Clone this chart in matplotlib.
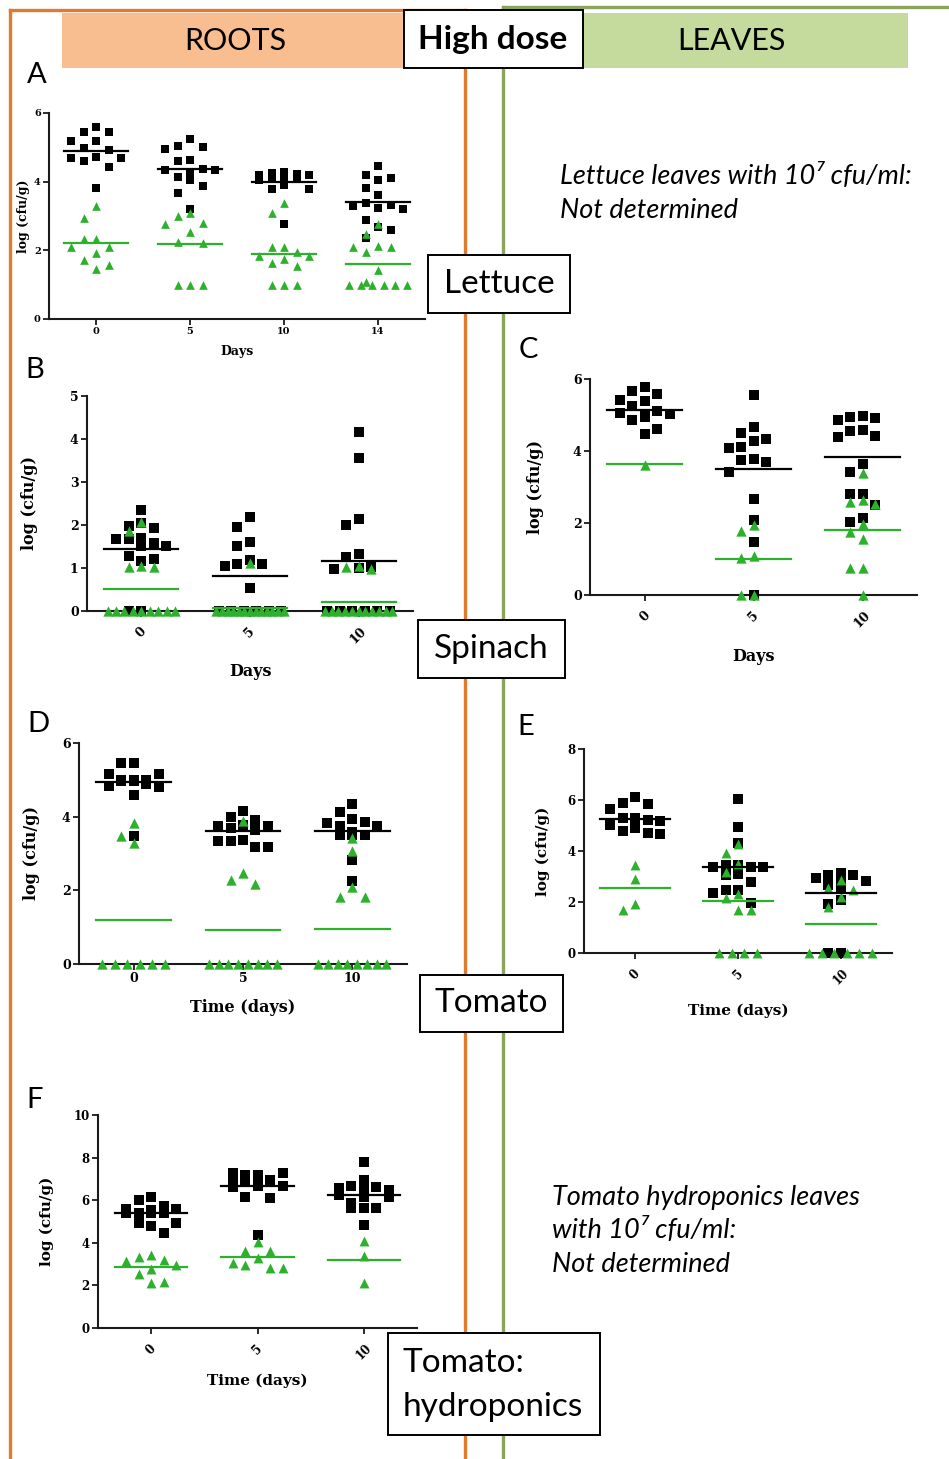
import numpy as np
import matplotlib
matplotlib.use('Agg')
import matplotlib.pyplot as plt
from matplotlib.patches import Rectangle

'''
Dot plots, high dose: roots and leaves of lettuce, spinach, tomato and hydroponic tomato
'''

plt.rcParams['font.family'] = ['Lato', 'DejaVu Sans']

W, H = 949, 1459
GREEN = '#2DB12D'
ORANGE = '#E07A2C'
OLIVE = '#8CA45A'
SERIF = 'DejaVu Serif'

# A - lettuce roots
lettuce_days = ['0', '5', '10', '14']
lettuce_black = [
    [5.44, 5.58, 5.44, 5.17, 5.17, 4.98, 4.93, 4.68, 4.59, 4.68, 4.73, 4.44, 3.83],
    [5.25, 5.02, 4.95, 5.05, 4.59, 4.62, 4.34, 4.34, 4.36, 4.29, 4.05, 4.13, 3.88, 3.68, 3.20],
    [4.20, 4.25, 4.29, 4.23, 4.20, 4.10, 4.10, 4.05, 3.80, 3.78, 3.90, 4.15, 2.78],
    [4.46, 4.10, 4.20, 4.05, 3.81, 3.61, 3.32, 3.22, 3.20, 3.29, 3.39, 2.88, 2.69, 2.59, 2.37],
]
lettuce_green = [
    [3.29, 2.95, 2.33, 2.33, 2.10, 2.10, 1.91, 1.71, 1.57, 1.47],
    [3.00, 3.08, 2.77, 2.80, 2.54, 2.25, 2.20, 1.00, 1.00, 1.00],
    [3.08, 3.37, 2.10, 2.10, 1.96, 1.84, 1.84, 1.62, 1.55, 1.76, 1.00, 1.00, 1.00],
    [2.78, 2.47, 2.10, 1.94, 2.10, 2.12, 1.42, 1.08, 1.00, 1.00, 1.00, 1.00, 1.00, 1.00],
]
lettuce_black_mean = [4.88, 4.37, 4.00, 3.40]
lettuce_green_mean = [2.20, 2.18, 1.89, 1.60]

# B - spinach roots
spinach_days = ['0', '5', '10']
spinach_root_black = [
    [2.05, 1.92, 2.36, 1.98, 1.67, 1.59, 1.69, 1.50, 1.51, 1.67, 1.17, 1.29, 1.22, 0, 0],
    [2.19, 1.95, 1.60, 1.52, 1.19, 1.09, 1.05, 1.09, 0.53, 0, 0, 0, 0, 0, 0],
    [4.17, 3.55, 2.14, 2.00, 1.33, 1.26, 1.03, 0.97, 0.99, 0, 0, 0, 0, 0, 0],
]
spinach_root_green = [
    [1.87, 2.08, 1.03, 1.03, 1.05, 0, 0, 0, 0, 0, 0, 0, 0, 0],
    [1.11, 0, 0, 0, 0, 0, 0, 0, 0, 0, 0, 0, 0, 0],
    [0.97, 1.05, 1.03, 0, 0, 0, 0, 0, 0, 0, 0, 0, 0, 0],
]
spinach_root_black_mean = [1.44, 0.81, 1.17]
spinach_root_green_mean = [0.51, 0.08, 0.22]

# C - spinach leaves
spinach_leaf_black = [
    [5.66, 5.77, 5.43, 5.59, 5.38, 5.26, 5.10, 5.01, 4.94, 5.06, 5.04, 4.85, 4.85, 4.62, 4.48],
    [5.55, 4.67, 4.50, 4.29, 4.34, 4.08, 4.11, 3.78, 3.69, 3.74, 3.43, 2.66, 2.07, 1.48, 0],
    [4.96, 4.92, 4.85, 4.94, 4.55, 4.39, 4.41, 4.57, 3.64, 3.43, 2.81, 2.81, 2.50, 2.13, 2.02],
]
spinach_leaf_green = [
    [3.62],
    [1.95, 1.78, 1.09, 1.02, 0, 0],
    [3.39, 2.58, 2.53, 2.64, 1.98, 1.75, 1.56, 0.76, 0.76, 0],
]
spinach_leaf_black_mean = [5.15, 3.51, 3.82]
spinach_leaf_green_mean = [3.65, 1.00, 1.81]

# D - tomato roots
tomato_days = ['0', '5', '10']
tomato_root_black = [
    [5.46, 5.46, 5.17, 5.17, 5.00, 4.96, 5.00, 5.00, 4.90, 4.84, 4.80, 4.60, 4.96, 3.48],
    [4.16, 3.90, 3.99, 3.74, 3.76, 3.78, 3.74, 3.37, 3.33, 3.69, 3.64, 3.33, 3.19, 3.19],
    [4.35, 4.13, 3.85, 3.76, 3.76, 3.83, 3.94, 3.49, 3.49, 3.58, 3.49, 2.83, 2.24],
]
tomato_root_green = [
    [3.83, 3.48, 3.28, 0, 0, 0, 0, 0, 0],
    [3.87, 2.28, 2.17, 2.48, 0, 0, 0, 0, 0, 0, 0, 0],
    [3.06, 3.42, 1.83, 1.83, 2.08, 0, 0, 0, 0, 0, 0, 0, 0],
]
tomato_root_black_mean = [4.93, 3.62, 3.60]
tomato_root_green_mean = [1.20, 0.92, 0.95]

# E - tomato leaves
tomato_leaf_black = [
    [6.10, 5.84, 5.64, 5.88, 5.29, 5.22, 5.19, 5.29, 4.89, 4.70, 4.66, 4.79, 5.02],
    [6.03, 4.96, 4.30, 3.45, 3.38, 3.36, 3.38, 3.45, 3.06, 3.10, 2.79, 2.47, 2.37, 2.47, 1.98],
    [3.15, 3.06, 2.96, 3.06, 2.75, 2.60, 2.83, 2.66, 1.91, 2.07, 0, 0],
]
tomato_leaf_green = [
    [3.45, 2.89, 1.70, 1.94],
    [4.28, 3.93, 3.19, 3.50, 2.33, 2.16, 1.70, 1.70, 0, 0, 0, 0],
    [2.20, 1.81, 2.47, 2.86, 2.53, 0, 0, 0, 0, 0, 0],
]
tomato_leaf_black_mean = [5.25, 3.38, 2.37]
tomato_leaf_green_mean = [2.53, 2.03, 1.13]

# F - hydroponic tomato roots
hydro_black = [
    [6.16, 6.00, 5.53, 5.72, 5.61, 5.61, 5.41, 5.41, 5.42, 5.42, 4.94, 4.80, 4.94, 4.44],
    [7.26, 7.18, 7.26, 7.18, 6.94, 6.94, 6.94, 6.87, 6.87, 6.66, 6.66, 6.60, 6.13, 6.08, 4.36],
    [7.81, 6.97, 6.68, 6.55, 6.47, 6.47, 6.60, 6.16, 6.16, 6.24, 5.64, 5.64, 5.64, 5.89, 4.83],
]
hydro_green = [
    [3.21, 3.42, 3.13, 3.34, 2.95, 2.76, 2.52, 2.12, 2.16],
    [4.04, 3.62, 3.62, 3.29, 2.98, 2.84, 2.84, 3.06],
    [4.08, 3.37, 2.13],
]
hydro_black_mean = [5.38, 6.66, 6.24]
hydro_green_mean = [2.87, 3.31, 3.21]


def swarm(vals, binh, step, maxw):
    # sideways offsets like a column scatter: equal values in a row, others packed greedily
    vals = np.asarray(vals, dtype=float)
    off = np.zeros(len(vals))
    placed = []
    done = np.zeros(len(vals), dtype=bool)
    for u in np.unique(vals):
        idx = np.where(vals == u)[0]
        if len(idx) >= 3:
            k = len(idx)
            sp = min(step, 2 * maxw / (k - 1))
            off[idx] = (np.arange(k) - (k - 1) / 2) * sp
            done[idx] = True
            placed += [(o, u) for o in off[idx]]
    nslot = int(maxw / (step / 2))
    cands = sorted(range(-nslot, nslot + 1), key=lambda c: (abs(c), c))
    for i in np.argsort(-vals, kind='stable'):
        if done[i]:
            continue
        best, best_hits = 0.0, None
        for c in cands:
            o = c * step / 2
            hits = sum(1 for po, pv in placed
                       if abs(o - po) < step * 0.95 and abs(vals[i] - pv) < binh)
            if best_hits is None or hits < best_hits:
                best, best_hits = o, hits
            if hits == 0:
                break
        off[i] = best
        placed.append((best, vals[i]))
    return off


def draw_panel(fig, box, days, black, green, bmean, gmean, ymax, ystep, xlab,
               rot, tick_fs, lab_fs, xlab_off, ylab_off, msize):
    l, t, r, b = box
    ax = fig.add_axes([l / W, 1 - b / H, (r - l) / W, (b - t) / H])
    ax.set_facecolor('none')
    n = len(days)
    ax.set_xlim(-0.5, n - 0.5)
    ax.set_ylim(0, ymax)
    px_x = (r - l) / n
    px_y = (b - t) / ymax
    for i in range(n):
        bv = np.array(black[i], dtype=float)
        gv = np.array(green[i], dtype=float)
        ax.scatter(i + swarm(bv, 13 / px_y, 12.5 / px_x, 0.31), bv, marker='s',
                   s=msize, c='black', linewidths=0, clip_on=False, zorder=3)
        ax.scatter(i + swarm(gv, 13 / px_y, 12.5 / px_x, 0.31), gv, marker='^',
                   s=msize * 1.15, c=GREEN, linewidths=0, clip_on=False, zorder=3)
        ax.plot([i - 0.34, i + 0.34], [bmean[i], bmean[i]], color='black', lw=1.6, zorder=4)
        ax.plot([i - 0.34, i + 0.34], [gmean[i], gmean[i]], color=GREEN, lw=1.6, zorder=4)
    ax.spines['top'].set_visible(False)
    ax.spines['right'].set_visible(False)
    for sp in ('left', 'bottom'):
        ax.spines[sp].set_linewidth(1.5)
        ax.spines[sp].set_color('#1a1a1a')
    yt = np.arange(0, ymax + ystep / 2, ystep)
    ax.set_yticks(yt, labels=[str(int(v)) for v in yt], fontfamily=SERIF,
                  fontweight='bold', fontsize=tick_fs)
    ax.set_xticks(range(n), labels=days, fontfamily=SERIF, fontweight='bold',
                  fontsize=tick_fs, rotation=rot)
    ax.tick_params(length=4, width=1.3, pad=2, color='#1a1a1a')
    if rot:
        ax.tick_params(axis='x', pad=6)
    ax.set_xlabel(xlab, fontfamily=SERIF, fontweight='bold', fontsize=lab_fs, va='center')
    ax.xaxis.set_label_coords(0.5, -xlab_off / (b - t))
    ax.set_ylabel('log (cfu/g)', fontfamily=SERIF, fontweight='bold', fontsize=lab_fs,
                  va='center')
    ax.yaxis.set_label_coords(-ylab_off / (r - l), 0.5)
    return ax


def plot_high_dose():
    fig = plt.figure(figsize=(W / 100, H / 100), dpi=100)

    draw_panel(fig, (49, 113, 425, 319), lettuce_days, lettuce_black, lettuce_green,
               lettuce_black_mean, lettuce_green_mean, 6, 2, 'Days', 0, 7, 9, 33, 25, 34)
    draw_panel(fig, (87, 396, 413, 611), spinach_days, spinach_root_black, spinach_root_green,
               spinach_root_black_mean, spinach_root_green_mean, 5, 1, 'Days', 45, 9, 11.5, 61, 57, 48)
    draw_panel(fig, (590, 379, 917, 595), spinach_days, spinach_leaf_black, spinach_leaf_green,
               spinach_leaf_black_mean, spinach_leaf_green_mean, 6, 2, 'Days', 45, 9, 11.5, 61, 55, 48)
    draw_panel(fig, (79, 743, 407, 964), tomato_days, tomato_root_black, tomato_root_green,
               tomato_root_black_mean, tomato_root_green_mean, 6, 2, 'Time (days)', 0, 9, 11.5, 44, 47, 48)
    draw_panel(fig, (584, 749, 892, 953), tomato_days, tomato_leaf_black, tomato_leaf_green,
               tomato_leaf_black_mean, tomato_leaf_green_mean, 8, 2, 'Time (days)', 45, 8.5, 11, 58, 41, 44)
    draw_panel(fig, (98, 1115, 417, 1328), tomato_days, hydro_black, hydro_green,
               hydro_black_mean, hydro_green_mean, 10, 2, 'Time (days)', 45, 8.5, 11, 53, 51, 44)

    # frame, header and labels drawn in pixel units over the whole figure
    ov = fig.add_axes([0, 0, 1, 1])
    ov.set_xlim(0, W)
    ov.set_ylim(H, 0)
    ov.axis('off')
    ov.patch.set_visible(False)

    ov.plot([10, 10], [10, H], color=ORANGE, lw=2.4)
    ov.plot([10, 465], [10, 10], color=ORANGE, lw=2.4)
    ov.plot([465, 465], [10, H], color=ORANGE, lw=2.4)
    ov.plot([503, W], [7, 7], color=OLIVE, lw=2.4)
    ov.plot([503, 503], [7, H], color=OLIVE, lw=2.4)

    ov.add_patch(Rectangle((62, 13), 341, 55, fc='#F9BE90', ec='none'))
    ov.add_patch(Rectangle((583, 13), 325, 55, fc='#C5DB9D', ec='none'))
    ov.text(235, 41, 'ROOTS', fontsize=22, ha='center', va='center')
    ov.text(731, 41, 'LEAVES', fontsize=22, ha='center', va='center')
    ov.add_patch(Rectangle((404, 10), 179, 58, fc='white', ec='black', lw=1.4, zorder=5))
    ov.text(493, 40, 'High dose', fontsize=24, fontweight='bold', ha='center', va='center', zorder=6)

    boxes = [((428, 255, 142, 58), 'Lettuce'), ((418, 620, 147, 58), 'Spinach'),
             ((420, 975, 143, 57), 'Tomato')]
    for (x, y, w, h), name in boxes:
        ov.add_patch(Rectangle((x, y), w, h, fc='white', ec='black', lw=1.4, zorder=5))
        ov.text(x + w / 2, y + h / 2, name, fontsize=24, ha='center', va='center', zorder=6)
    ov.add_patch(Rectangle((388, 1333), 212, 102, fc='white', ec='black', lw=1.4, zorder=5))
    ov.text(403, 1363, 'Tomato:', fontsize=24, ha='left', va='center', zorder=6)
    ov.text(403, 1407, 'hydroponics', fontsize=24, ha='left', va='center', zorder=6)

    for x, y, s in [(37, 75, 'A'), (35, 370, 'B'), (528, 350, 'C'),
                    (38, 724, 'D'), (526, 727, 'E'), (35, 1100, 'F')]:
        ov.text(x, y, s, fontsize=21, ha='center', va='center')

    for x, y, s in [(560, 176, 'Lettuce leaves with 10\u2077 cfu/ml:'), (560, 210, 'Not determined'),
                    (552, 1197, 'Tomato hydroponics leaves'), (552, 1230, 'with 10\u2077 cfu/ml:'),
                    (552, 1265, 'Not determined')]:
        ov.text(x, y, s, fontsize=19.5, style='italic', ha='left', va='center')

    fig.savefig('out.png', dpi=100)


if __name__ == '__main__':
    plot_high_dose()
